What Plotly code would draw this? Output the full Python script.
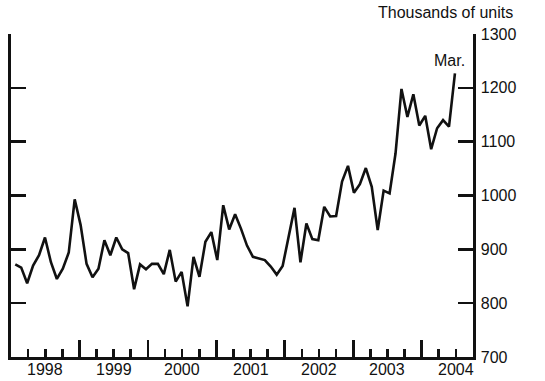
import plotly.graph_objects as go

# Monthly values, thousands of units, ending March
month_index = list(range(75))
values = [872, 866, 837, 870, 889, 922, 876, 845, 864, 894, 993, 945,
          873, 848, 864, 917, 889, 922, 900, 893, 826, 872, 863, 873,
          873, 854, 899, 840, 858, 794, 886, 849, 914, 932, 880, 982,
          937, 965, 938, 907, 886, 883, 880, 868, 853, 869, 923, 977,
          876, 948, 919, 917, 979, 961, 962, 1026, 1055, 1005, 1021, 1051,
          1016, 936, 1009, 1004, 1078, 1198, 1146, 1188, 1130, 1148, 1086, 1125,
          1140, 1128, 1227]
year_labels = ["1998", "1999", "2000", "2001", "2002", "2003", "2004"]
y_ticks = [700, 800, 900, 1000, 1100, 1200, 1300]

# axis geometry (in month-index units)
X0 = -0.72          # left edge of the axis (start of first year)
YEAR = 11.52        # width of one labelled year on the axis
X1 = X0 + 6.75 * YEAR

major = [X0 + YEAR * k for k in range(1, 7)]
minor = [X0 + YEAR / 4 * j for j in range(1, 27) if j % 4 != 0]
label_pos = [X0 + YEAR * (k + 0.5) for k in range(len(year_labels))]

FONT = "Liberation Sans, Arial, Helvetica, sans-serif"

fig = go.Figure()
fig.add_trace(go.Scatter(x=month_index, y=values, mode="lines",
                         line=dict(color="#111111", width=2.6),
                         hoverinfo="skip", showlegend=False))

annotations = []
for pos, lab in zip(label_pos, year_labels):
    annotations.append(dict(x=pos, y=0, xref="x", yref="paper", text=lab,
                            showarrow=False, xanchor="center", yanchor="top",
                            yshift=-2, font=dict(family=FONT, size=16, color="#111111")))
annotations.append(dict(x=1.09, y=1.066, xref="paper", yref="paper",
                        text="Thousands of units", showarrow=False,
                        xanchor="right", yanchor="middle",
                        font=dict(family=FONT, size=16, color="#111111")))
annotations.append(dict(x=month_index[-1], y=values[-1], xref="x", yref="y",
                        text="Mar.", showarrow=False, xanchor="center",
                        yanchor="bottom", xshift=-5, yshift=2,
                        font=dict(family=FONT, size=16, color="#111111")))

fig.update_layout(
    width=545, height=381,
    margin=dict(l=8, r=72, t=34, b=24),
    paper_bgcolor="white", plot_bgcolor="white",
    font=dict(family=FONT, size=16, color="#111111"),
    annotations=annotations,
    xaxis=dict(range=[X0, X1], showgrid=False, zeroline=False,
               showline=True, linecolor="#111111", linewidth=2.6,
               ticks="inside", tickmode="array", tickvals=major,
               ticklen=17, tickwidth=2.6, tickcolor="#111111",
               showticklabels=False,
               minor=dict(ticks="inside", tickmode="array", tickvals=minor,
                          ticklen=8, tickwidth=2.6, tickcolor="#111111",
                          showgrid=False)),
    yaxis=dict(range=[700, 1300], side="right", showgrid=False, zeroline=False,
               showline=True, linecolor="#111111", linewidth=2.6,
               mirror="ticks", ticks="inside", tickmode="array",
               tickvals=y_ticks, ticktext=[str(v) for v in y_ticks],
               ticklen=15, tickwidth=2.6, tickcolor="#111111",
               ticklabelstandoff=2),
)

fig.write_html("out.html",
               config={"displayModeBar": False, "staticPlot": True},
               post_script="document.body.style.margin='0';document.body.style.overflow='hidden';")
